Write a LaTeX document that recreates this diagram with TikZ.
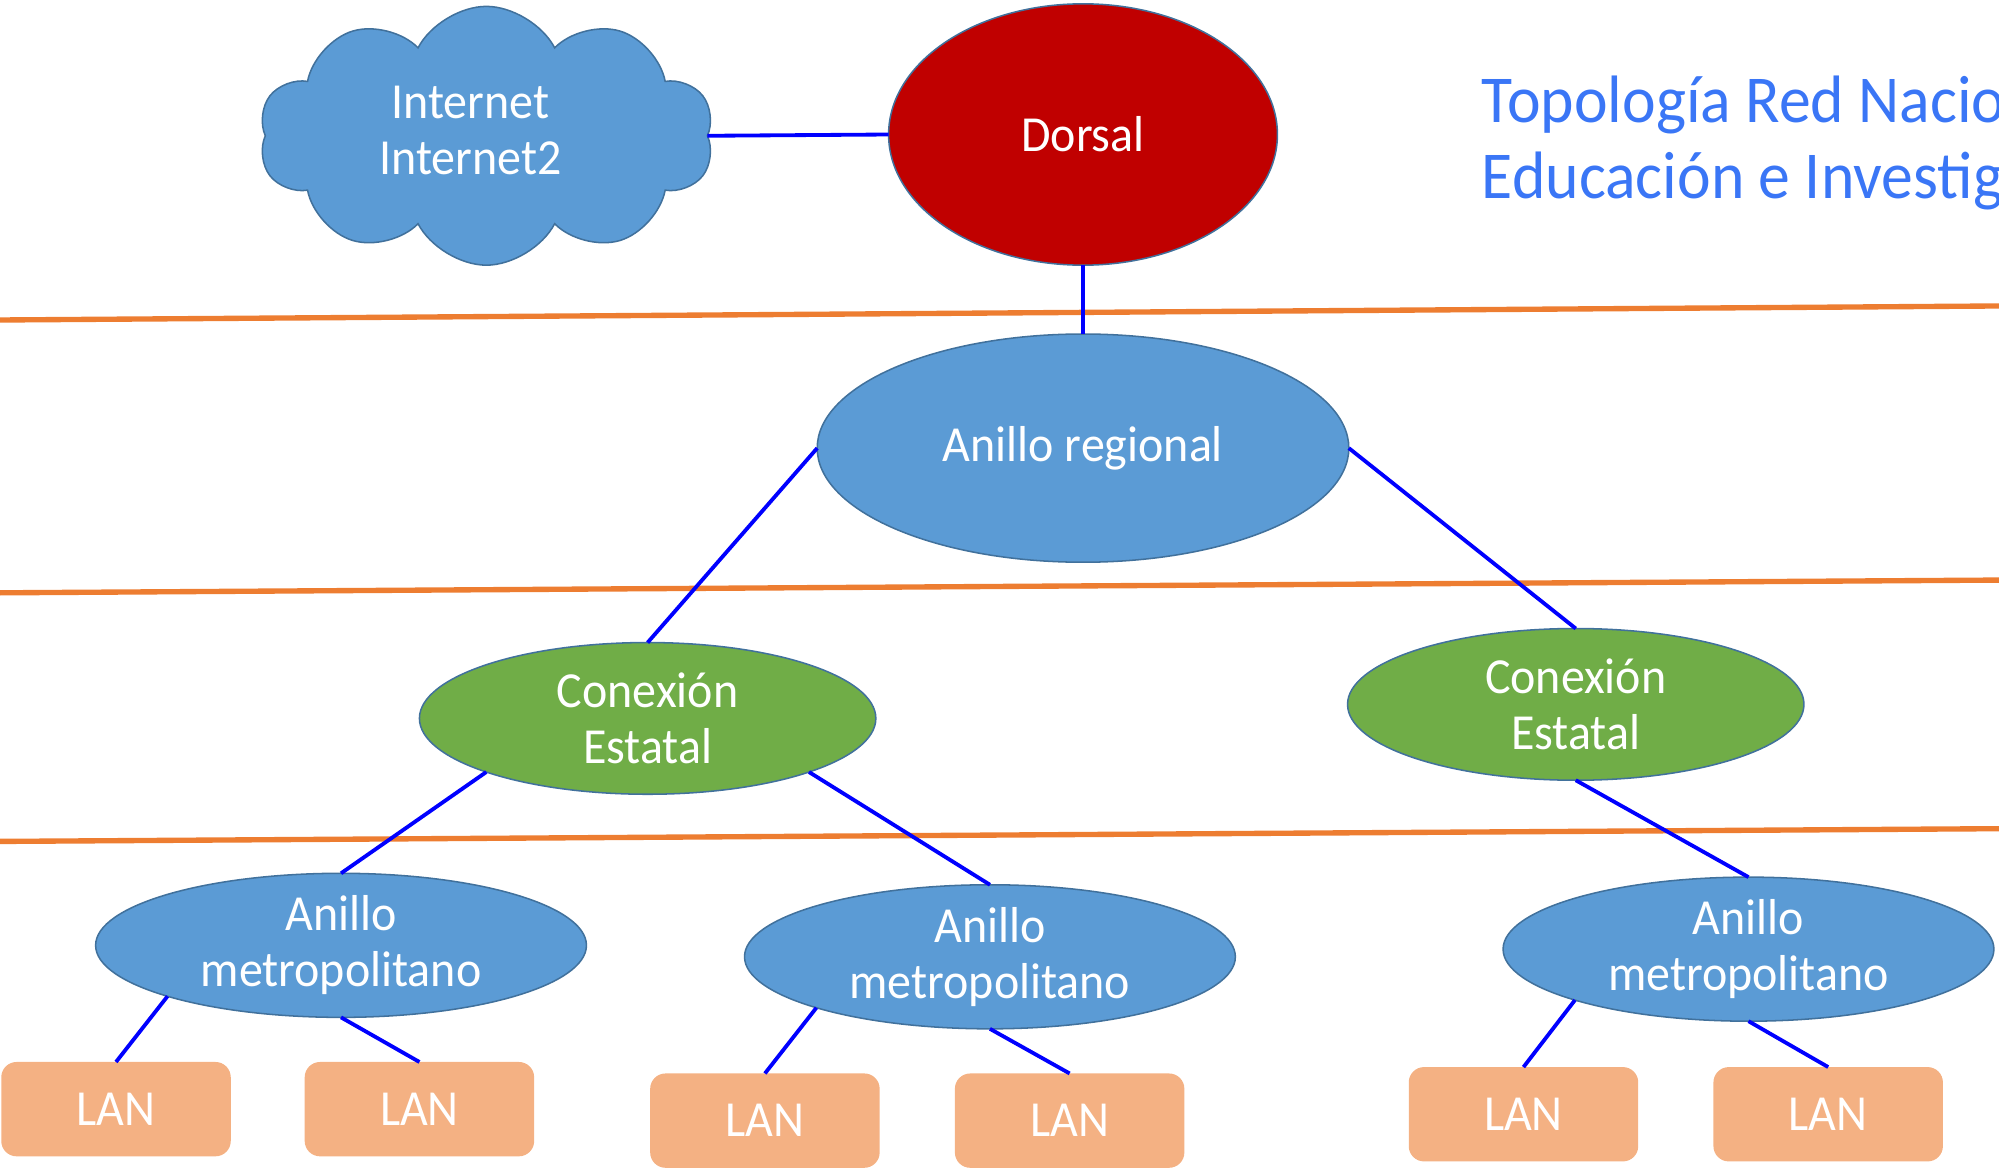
\documentclass[tikz,border=0pt]{standalone}
\usepackage{fontspec}
\setmainfont{Carlito}[FakeStretch=0.95]
\usetikzlibrary{shapes.geometric,shapes.symbols}
\definecolor{nodeblue}{HTML}{5B9BD5}
\definecolor{nodegreen}{HTML}{70AD47}
\definecolor{nodered}{HTML}{C00000}
\definecolor{lanfill}{HTML}{F4B183}
\definecolor{border}{HTML}{41719C}
\definecolor{orangeline}{HTML}{ED7D31}
\definecolor{linkblue}{HTML}{0000FF}
\definecolor{titleblue}{RGB}{58,118,246}
\tikzset{
  nodetext/.style={text=white, font=\fontsize{19.8}{22}\selectfont, align=center},
  ell/.style={ellipse, draw=border, line width=0.6pt, inner sep=0pt, outer sep=0pt, nodetext},
  dorsalnode/.style={ell, fill=nodered, minimum width=152.5pt, minimum height=102.5pt},
  regionalnode/.style={ell, fill=nodeblue, minimum width=208.5pt, minimum height=89.5pt},
  estatalnode/.style={ell, fill=nodegreen, minimum width=179pt, minimum height=59.5pt},
  metronode/.style={ell, fill=nodeblue, minimum width=192.5pt, minimum height=56.5pt},
  lannode/.style={rectangle, rounded corners=6pt, fill=lanfill, inner sep=0pt, outer sep=0pt,
    minimum width=90pt, minimum height=37pt, nodetext},
  cloudnode/.style={cloud, cloud puffs=10, cloud puff arc=125, aspect=1.76, draw=border,
    line width=0.6pt, fill=nodeblue, inner sep=0pt, outer sep=0pt,
    minimum width=178.5pt, minimum height=101.5pt},
  link/.style={draw=linkblue, line width=1.5pt},
  layer/.style={draw=orangeline, line width=2.1pt},
  titletext/.style={text=titleblue, font=\fontsize{26.3}{30}\selectfont, anchor=base west, inner sep=0pt}
}
\begin{document}
\begin{tikzpicture}[x=0.5pt, y=-0.5pt]
\useasboundingbox (0,0) rectangle (1568,915.4);
\clip (0,0) rectangle (1568,915.4);

% layer separators
\coordinate (la1) at (0,251); \coordinate (lb1) at (1568,240);
\coordinate (la2) at (0,465); \coordinate (lb2) at (1568,455);
\coordinate (la3) at (0,660); \coordinate (lb3) at (1568,650);
\draw[layer] (la1) -- (lb1);
\draw[layer] (la2) -- (lb2);
\draw[layer] (la3) -- (lb3);

% title
\node[titletext] (title1) at (1162,96) {Topología Red Nacio};
\node[titletext] (title2) at (1162,156) {Educación e Investig};

% nodes
\node[cloudnode] (cloud) at (381.5,106.5) {};
\node[nodetext] (cloudtext) at (369,102) {Internet\\Internet2};
\node[dorsalnode] (dorsal) at (849.5,105.5) {Dorsal};
\node[regionalnode] (regional) at (849.5,351.5) {Anillo regional};
\node[estatalnode] (est1) at (508,563.5) {Conexión\\Estatal};
\node[estatalnode] (est2) at (1236,552.5) {Conexión\\Estatal};
\node[metronode] (met1) at (267.5,741.5) {Anillo\\metropolitano};
\node[metronode] (met2) at (776.5,750.5) {Anillo\\metropolitano};
\node[metronode] (met3) at (1371.5,744.5) {Anillo\\metropolitano};
\node[lannode] (lan1) at (91,870) {LAN};
\node[lannode] (lan2) at (329,870) {LAN};
\node[lannode] (lan3) at (600,879) {LAN};
\node[lannode] (lan4) at (839,879) {LAN};
\node[lannode] (lan5) at (1195,874) {LAN};
\node[lannode] (lan6) at (1434,874) {LAN};

% connectors
\draw[link] (cloud.east) -- (dorsal.west);
\draw[link] (dorsal.south) -- (regional.north);
\draw[link] (regional.west) -- (est1.north);
\draw[link] (regional.east) -- (est2.north);
\draw[link] (est1.south west) -- (met1.north);
\draw[link] (est1.south east) -- (met2.north);
\draw[link] (est2.south) -- (met3.north);
\draw[link] (met1.south west) -- (lan1.north);
\draw[link] (met1.south) -- (lan2.north);
\draw[link] (met2.south west) -- (lan3.north);
\draw[link] (met2.south) -- (lan4.north);
\draw[link] (met3.south west) -- (lan5.north);
\draw[link] (met3.south) -- (lan6.north);
\end{tikzpicture}
\end{document}
